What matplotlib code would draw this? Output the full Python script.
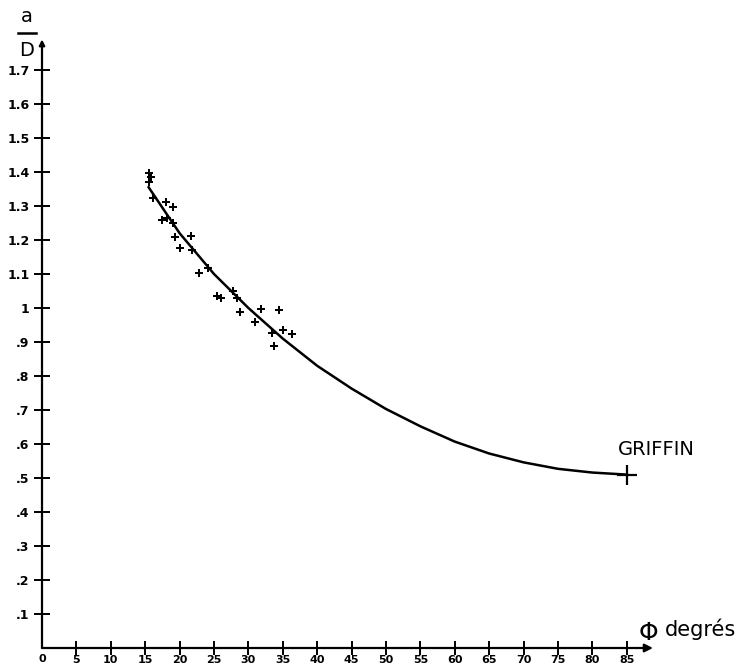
import matplotlib.pyplot as plt
from matplotlib.lines import Line2D

# fitted curve (phi in degrees, a/D)
curve_phi = [15.5, 17, 20, 22.5, 25, 27.5, 30, 35, 40, 45, 50, 55, 60, 65, 70, 75, 80, 85]
curve_ad = [1.355, 1.31, 1.22, 1.16, 1.10, 1.05, 1.00, 0.91, 0.83, 0.763, 0.703, 0.652,
            0.607, 0.572, 0.546, 0.527, 0.516, 0.51]

# measured points
pts_phi = [15.6, 15.9, 15.55, 16.1, 18.0, 19.0, 17.5, 18.1, 19.0, 19.3, 21.7,
           20.0, 21.8, 24.2, 22.8, 25.5, 26.0, 27.8, 28.3, 28.8, 31.0, 31.8,
           34.4, 33.5, 35.1, 36.4, 33.7]
pts_ad = [1.398, 1.386, 1.37, 1.323, 1.313, 1.298, 1.259, 1.264, 1.251, 1.208,
          1.212, 1.176, 1.171, 1.117, 1.102, 1.036, 1.030, 1.051, 1.030, 0.989,
          0.960, 0.997, 0.995, 0.926, 0.935, 0.924, 0.888]

griffin_phi = 85
griffin_ad = 0.51

xticks = list(range(5, 90, 5))
xlabels = [str(v) for v in xticks]
yticks = [0.1, 0.2, 0.3, 0.4, 0.5, 0.6, 0.7, 0.8, 0.9, 1.0, 1.1, 1.2, 1.3, 1.4, 1.5, 1.6, 1.7]
ylabels = ['.1', '.2', '.3', '.4', '.5', '.6', '.7', '.8', '.9', '1',
           '1.1', '1.2', '1.3', '1.4', '1.5', '1.6', '1.7']

W, H = 743, 669
fig = plt.figure(figsize=(W / 100, H / 100), dpi=100)
x0, y0 = 42, 648          # origin in pixels
xs, ys = 6.88, 340.0      # px per unit
xmax, ymax = 90, 1.85
ax = fig.add_axes([x0 / W, (H - y0) / H, xmax * xs / W, ymax * ys / H])
ax.set_xlim(0, xmax)
ax.set_ylim(0, ymax)
for s in ax.spines.values():
    s.set_visible(False)

# axes with arrows
ax.annotate('', xy=(88.8, 0), xytext=(0, 0),
            arrowprops=dict(arrowstyle='-|>', color='black', lw=1.6,
                            mutation_scale=12, shrinkA=0, shrinkB=0))
ax.annotate('', xy=(0, 1.79), xytext=(0, 0),
            arrowprops=dict(arrowstyle='-|>', color='black', lw=1.6,
                            mutation_scale=8, shrinkA=0, shrinkB=0))

tick_font = dict(family='DejaVu Sans', size=8, weight='bold')
ax.set_xticks(xticks)
ax.set_xticklabels(xlabels, **tick_font)
ax.set_yticks(yticks)
ax.set_yticklabels(ylabels, size=9, family='DejaVu Sans', weight='bold')
ax.tick_params(axis='x', direction='inout', length=10, width=1.4, pad=0)
ax.tick_params(axis='y', direction='inout', length=12, width=1.4, pad=3)
ax.text(0, -0.017, '0', ha='center', va='top', **tick_font)

# curve and points
ax.plot(curve_phi, curve_ad, color='black', lw=1.8)
ax.plot(pts_phi, pts_ad, linestyle='none', marker='P', markersize=6,
        color='black', markeredgewidth=0)
ax.plot([griffin_phi], [griffin_ad], marker='+', markersize=15,
        markeredgewidth=1.6, color='black')

ax.text(89.3, 0.585, 'GRIFFIN', ha='center', va='center', fontsize=14,
        family='DejaVu Sans')
ax.text(88.2, 0.01, '\u03a6', ha='center', va='bottom', fontsize=18,
        family='DejaVu Sans', clip_on=False)
ax.text(90.6, 0.025, 'degrés', ha='left', va='bottom', fontsize=15,
        family='DejaVu Sans', clip_on=False)

# a / D label
fig.text(27 / W, 1 - 17 / H, 'a', ha='center', va='center', fontsize=14)
fig.text(27 / W, 1 - 50 / H, 'D', ha='center', va='center', fontsize=14)
fig.add_artist(Line2D([18 / W, 36 / W], [1 - 33 / H, 1 - 33 / H],
                      color='black', lw=1.8))

fig.savefig('out.png', dpi=100)
